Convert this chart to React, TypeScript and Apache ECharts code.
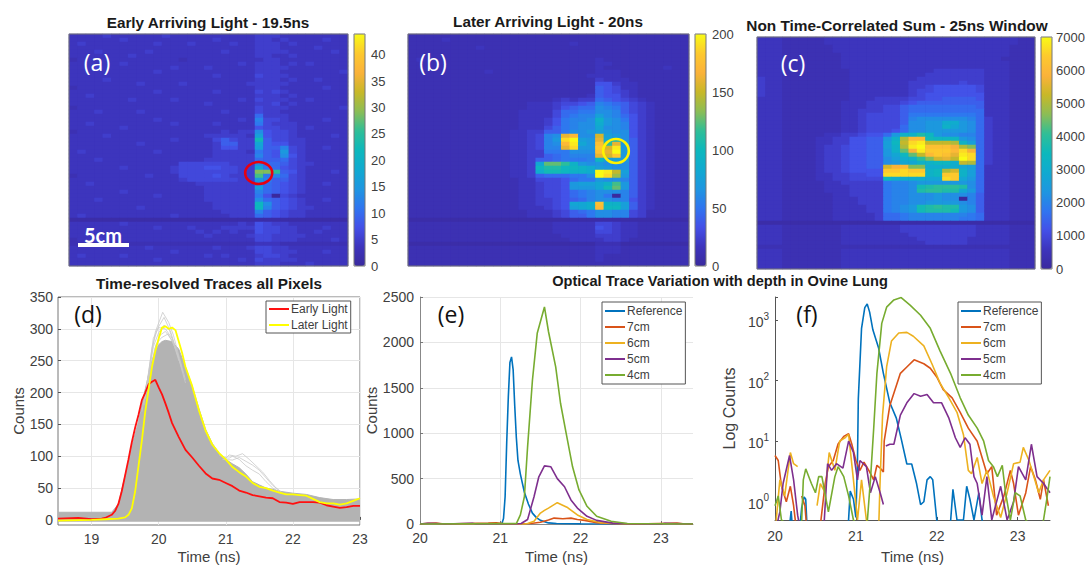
import React, { useEffect, useRef } from "react";
import * as echarts from "echarts";

const panelARows = [
  "333343333334333 3333333 444333 33333","333333433333333 3343333 443433 33433","343333333343334 3333433 444343 33333","333333333333333 3333333 444333 34333",
  "333433333433333 3334333 444433 33343","333333343333333 3333333 443343 33333","233333333333323 3333333 344333 33333","333333433333333 3333343 444343 43333",
  "333433333333433 3433333 444433 33333","333333333343333 3333333 444333 33334","333333333333333 3343333 544433 33333","333343333333333 3333333 444343 34333",
  "333333334333343 3333334 444433 33333","233333333333333 3333333 444333 33433","333333333343333 3343333 545433 33333","334333333333333 3333333 444343 33333",
  "333333343333433 3333343 544433 43333","333333333333333 3433333 445343 33333","233333333333333 3333333 544433 33334","333433334333333 3334333 544333 33333",
  "333333333333333 3333333 844433 33333","333333333343333 3333343 a55433 33433","334333333333433 3343333 954443 33333","333333433333333 3333333 655443 43333",
  "233333333333333 3334344 b65543 33333","333343333333333 3444443 d65543 33343","333333333333433 3357544 i75544 33333","333333334333333 3347744 e76644 33333",
  "333333333333333 3346644 d77a54 33433","343333333343333 3344443 976c54 33333","333333333333333 3344444 a76b64 33333","333433333333333 3444444 877854 33333",
  "333333333333355 5555444 b88754 43333","333333433333455 5665544 e98654 33333","333333333333455 5555544 nnk764 33343","233333333433355 5565444 l9a854 33333",
  "333333333333345 5555544 ca7754 33333","334333333333333 4444444 a87654 33433","333333333333333 3444444 d87654 33333","333333433333333 3444444 a87654 33333",
  "333333333343333 3444444 960543 33333","333433333333333 3444444 b87654 33433","333333333333333 3344444 hb7654 33333","333333334333333 3344444 ha7654 43333",
  "333333333333333 3334444 a76544 33333","343333333333433 3333444 876544 33333","111111111111111 1111111 111111 11111","333333433333333 3333343 654433 33333",
  "333333333343334 3334444 655443 33433","334333333333333 4343433 655443 34333","333333333333333 3433334 554444 33333","233433333333333 3333333 554443 33343",
  "222222222222222 2222222 333222 22222","333333333433333 3343334 554433 33333","333333333333433 3333333 554443 33433","343333433333333 3434333 455433 33333",
  "333333333343333 3333343 544443 33333","333333333333333 3333333 444333 43333",
];
const panelBRows = [
  "222222222222222 2222222 222222 22222","222232222222222 2222222 222222 22222","222222222222222 2222322 222222 22222","222222223222222 2222222 222222 22222",
  "222222222222222 2222222 222222 22222","222222222222222 2222222 222222 22222","232222222222222 2222222 322222 22222","222222222222222 2222222 332222 22222",
  "222222222222222 2222222 322222 22322","222222222322222 2222222 333222 22222","222222222222222 2222223 333222 22222","222222222222222 2222222 433322 22222",
  "222222222222222 2222222 664332 22222","222222222222222 2222222 765332 22222","222222222222222 2222222 765432 22222","222222222222222 2222223 766432 22222",
  "222222222222222 2234344 876543 22222","222222222222223 3345567 a98754 32222","222222222222223 3346788 ba9754 32222","222222222222233 3358899 bba754 32222",
  "222222222222233 33589aa dba864 32222","222222222222233 3469aab gcb964 32222","222222222222233 3469abb fcba64 32222","222222222222233 3579abb ebba64 32222",
  "222222222222334 4779bbc dcbb64 32222","222222222222334 5absubb rdcb64 32222","222222222222334 5acxzdc sehb74 32222","222222222222334 5abuyec vksc74 32222",
  "222222222222334 5aasxcc wryc74 32222","222222222222334 4999bbb vszc74 32222","222222222222334 4789aaa srwc74 32222","222222222222334 778999a hddc74 32222",
  "222222222222334 emmkgcb cbbb74 32222","222222222222334 hjjhhgf dcbb74 32222","222222222222334 fiihggf zyqd74 32222","222222222222334 788899b zxoc74 32222",
  "222222222222233 5556899 cbba74 32222","222222222222233 4556cdd eglc74 32222","222222222222233 4556ccc eimc74 32222","222222222222233 455689a bbba74 32222",
  "222222222222233 455689a b90a74 32222","222222222222233 445678a bbaa64 32222","222222222222233 4456eef vggd74 32222","222222222222233 3456def uhhd74 32222",
  "222222222222223 3345789 bbaa54 22222","222222222222223 3345779 bbaa54 22222","111111111111111 1111111 111111 11111","222222222222222 2233333 554332 22222",
  "222222222222222 2233333 654332 22222","222222222222222 2233333 554332 22222","222222222222222 2223333 444332 22222","222222222222222 2222333 344322 22222",
  "111111111111111 1111111 222111 11111","222222222222222 2222222 333222 22222","222222222222222 2222222 333222 22222","222222222222222 2222222 322222 22222",
  "222222222222222 2222222 322222 22222","222222222222222 2222222 222222 22222",
];
const panelCRows = [
  "333222223333333 3333333 333333 33322","333222223333333 3333333 333333 33322","333222222333333 3333333 333333 33222","333222222333333 3333333 333333 33222",
  "333222222233333 3333333 333333 33222","333222222233333 3333333 333333 32222","333222222233333 3333333 333333 33222","333222222233333 3333333 333333 33222",
  "333222222223333 3333334 444443 33222","333222222223333 3333344 444443 33222","433222222223333 3333444 444443 33222","433222222223333 3334444 445443 33222",
  "433222222223333 3334456 666653 33222","433222222223333 3334556 666653 33222","433222222223333 3334566 666663 33222","333222222223334 4445566 777763 33222",
  "333222222233344 4456777 777773 33222","333222222233344 5578888 888873 33222","333222222233444 5578888 888883 33222","333222222233455 5579999 999983 33222",
  "333222222233455 557abbb bbba84 33222","333222222233455 557bbcc ffcb84 33222","333222222233455 558bbcc gecb84 33222","333222222233455 568bbcc cccb84 33222",
  "333222223344566 8cggjhc bbaa84 33222","333222233446677 cgpuuih hhcb84 33222","333222233446677 dhqxyqq qpgd84 33222","333222234456677 dgpyzvv vtpn84 33222",
  "333222234456677 cgmtyww wuxt84 33222","333222234456677 cehmquw vsyx84 33222","333222234456677 bdfgknr sqzx84 33222","333222234456677 bceeggh hfqp84 33222",
  "333222234456677 rtunnff ffed83 33222","333222234456666 wwxwwgh prgd83 33222","333222233445566 xxxxxgh wwgd83 33222","333222233445555 hffffee xwec83 33222",
  "333222223344444 9aabccc cccb83 33222","333222223334444 9aabijk kkjb83 33222","333222223334444 9aabjkk jjec83 33222","333222222334444 9aabbbc bbba73 33222",
  "333222222333444 9aabbbc bb0a73 33222","333222222333444 9aabbcc ccba73 33222","333222222333344 9abcijk jjcb73 33222","333222222333344 9abcijj jicb73 33222",
  "333222222333334 889aaaa aaa983 33222","333222222333334 889aaaa aa9983 33222","111111111111111 1111111 111111 11111","333222222233333 3344444 444433 33222",
  "333222222233333 3344444 444433 33222","333222222233333 3334444 444433 33222","333222222233333 3333444 444333 33222","333222222233333 3333344 444333 33222",
  "222222222222222 2222222 222222 22222","333222222233333 3333333 333333 33222","333222222233333 3333333 333333 33222","333222222233333 3333333 333333 33222",
  "333222222233333 3333333 333333 33222","333222222233333 3333333 333333 33222",
];
const heatMaxA = 43.9;
const heatMaxB = 200;
const heatMaxC = 7000;
const parula = ["#3A2A9E","#3D34BC","#4450E8","#3075F0","#1E96E0","#10AAD0","#0DB8BC","#30BE96","#8CBD55","#C8B828","#FBB23A","#FDC92E","#F9FB15"];

const earlyLight = [[18.5,2],[18.8,3],[19,1],[19.15,2],[19.2,3],[19.3,8],[19.35,14],[19.4,25],[19.45,45],[19.5,70],[19.55,95],[19.6,122],[19.65,145],[19.7,165],[19.75,188],[19.8,200],[19.85,213],[19.9,217],[19.95,220],[20,208],[20.05,197],[20.1,183],[20.15,168],[20.2,152],[20.3,130],[20.4,110],[20.5,98],[20.6,85],[20.7,73],[20.8,65],[20.9,63],[21,58],[21.1,53],[21.2,46],[21.3,43],[21.4,39],[21.5,37],[21.6,35],[21.7,34],[21.8,28],[21.9,27],[22,25],[22.1,28],[22.2,28],[22.3,28],[22.4,27],[22.5,23],[22.6,21],[22.7,19],[22.8,20],[22.9,22],[23,22]];
const laterLight = [[18.5,-1],[19,0],[19.2,1],[19.4,2],[19.5,4],[19.55,8],[19.6,18],[19.65,45],[19.7,85],[19.75,125],[19.8,170],[19.85,205],[19.9,240],[19.95,265],[20,285],[20.05,302],[20.1,304],[20.15,300],[20.2,302],[20.25,298],[20.3,280],[20.35,262],[20.4,240],[20.5,210],[20.6,172],[20.7,140],[20.8,118],[20.9,105],[21,95],[21.1,83],[21.2,75],[21.3,68],[21.4,58],[21.5,52],[21.6,50],[21.7,46],[21.8,43],[21.9,40],[22,40],[22.1,39],[22.2,38],[22.3,33],[22.4,28],[22.5,26],[22.6,26],[22.7,24],[22.8,26],[22.9,30],[23,34]];
const pixelEnvelope = [[18.5,12],[19.3,12],[19.4,25],[19.5,70],[19.6,115],[19.7,155],[19.8,205],[19.85,228],[19.9,250],[19.95,265],[20,275],[20.05,280],[20.1,282],[20.2,280],[20.3,268],[20.4,240],[20.5,210],[20.6,175],[20.7,142],[20.8,120],[20.9,105],[21,95],[21.1,88],[21.2,82],[21.3,72],[21.4,60],[21.5,55],[21.6,50],[21.7,48],[21.8,45],[22,42],[22.2,40],[22.4,35],[22.6,32],[22.8,32],[23,33]];
const pixelTraces = [
  [[19.75,170],[19.85,230],[19.95,295],[20.06,326],[20.15,310],[20.22,290],[20.3,258],[20.4,220]],
  [[19.78,180],[19.9,270],[19.98,300],[20.08,318],[20.18,295],[20.28,260],[20.4,215]],
  [[19.8,190],[19.92,285],[20,302],[20.1,300],[20.2,285],[20.3,250]],
  [[19.82,205],[19.92,272],[20,294],[20.08,306],[20.16,298],[20.26,268],[20.36,232]],
  [[19.84,215],[19.94,268],[20.02,290],[20.1,296],[20.2,282],[20.3,254]],
  [[19.86,225],[19.96,275],[20.04,286],[20.14,292],[20.24,272],[20.34,240]],
  [[20.9,102],[21,97],[21.05,102],[21.15,100],[21.25,104],[21.35,95],[21.45,85],[21.55,75],[21.65,62],[21.75,50],[21.85,42]],
  [[20.95,98],[21.05,97],[21.1,100],[21.2,95],[21.3,85],[21.4,78],[21.5,72],[21.6,60],[21.7,50],[21.8,44]],
  [[20.95,95],[21.1,94],[21.2,98],[21.3,92],[21.4,86],[21.5,78],[21.6,66],[21.7,54],[21.8,46]],
];

const eReference = [[20,0],[21.02,5],[21.04,60],[21.06,300],[21.08,900],[21.1,1400],[21.12,1780],[21.14,1840],[21.16,1700],[21.18,1300],[21.2,950],[21.22,700],[21.25,550],[21.3,350],[21.35,220],[21.4,120],[21.45,70],[21.5,40],[21.6,12],[21.7,5],[22,1],[23.4,0]];
const e7cm = [[20,0],[20.1,8],[20.2,10],[20.3,0],[20.85,10],[20.95,14],[21.05,2],[21.38,5],[21.5,20],[21.6,45],[21.67,65],[21.78,58],[21.88,65],[21.96,50],[22.05,40],[22.2,15],[22.4,3],[22.7,0],[23.1,8],[23.2,10],[23.3,0],[23.4,0]];
const e6cm = [[20,0],[21.3,0],[21.34,5],[21.42,30],[21.5,120],[21.55,150],[21.6,175],[21.71,235],[21.83,185],[21.96,100],[22.08,50],[22.25,15],[22.55,3],[23.4,0]];
const e5cm = [[20,0],[20.1,8],[20.2,6],[20.3,0],[20.65,8],[20.7,0],[21.2,0],[21.26,5],[21.34,50],[21.42,300],[21.48,520],[21.55,640],[21.63,630],[21.71,500],[21.8,410],[21.88,265],[21.96,175],[22.08,85],[22.2,40],[22.4,10],[22.6,2],[23,0],[23.05,8],[23.15,6],[23.4,0]];
const e4cm = [[20,0],[21.2,5],[21.25,100],[21.3,300],[21.34,850],[21.4,1580],[21.46,2100],[21.55,2390],[21.6,2120],[21.69,1730],[21.75,1330],[21.82,1000],[21.9,630],[21.98,375],[22.08,195],[22.2,85],[22.38,30],[22.58,5],[23.4,0]];

const fReference = [[20,null],[20.17,0.3],[20.2,0.7],[20.22,0.3],[20.3,0.3],[20.33,0.8],[20.36,1.2],[20.38,1.1],[20.4,0.3],[20.9,0.3],[20.93,1.5],[20.97,1.1],[21,0.55],[21.02,5],[21.03,50],[21.07,730],[21.11,1600],[21.14,1840],[21.17,1350],[21.21,690],[21.28,350],[21.34,132],[21.42,43],[21.5,24],[21.56,11],[21.63,4.2],[21.69,4.2],[21.75,2],[21.8,0.9],[21.84,1],[21.88,2.3],[21.92,2.6],[21.95,2.3],[22,0.5],[22.02,0.3],[22.16,0.3],[22.2,1.6],[22.25,0.5],[22.33,0.5],[22.37,1.8],[22.41,1.1],[22.46,0.5],[22.52,1.4],[22.56,0.5],[22.6,0.3],[23.4,null]];
const f7cm = [[20,5.8],[20.04,4.8],[20.08,1.8],[20.14,1],[20.19,1.8],[20.23,0.86],[20.27,0.3],[20.3,null],[20.33,1.25],[20.37,0.86],[20.39,0.4],[20.5,null],[20.56,0.4],[20.62,2],[20.66,3.8],[20.72,4.8],[20.78,9],[20.85,12],[20.91,13.3],[20.95,8.9],[21,4.8],[21.05,3.3],[21.1,4.5],[21.16,3.3],[21.22,2.3],[21.26,4],[21.3,3.6],[21.34,3.1],[21.35,10],[21.42,39],[21.55,132],[21.63,168],[21.72,220],[21.84,190],[21.92,160],[22,115],[22.08,71],[22.19,52],[22.29,30],[22.39,16.4],[22.5,10],[22.56,5.4],[22.62,2.9],[22.68,3.8],[22.74,0.6],[22.83,1.25],[22.91,3.3],[22.95,2],[23.01,0.6],[23.1,1.4],[23.16,3.8],[23.22,2.3],[23.28,1.1],[23.32,2.3],[23.38,0.86]];
const f6cm = [[20,0.3],[20.06,2.3],[20.12,1.25],[20.19,6.5],[20.23,4.25],[20.28,3.8],[20.29,null],[20.52,0.86],[20.56,2],[20.62,1.41],[20.67,6.5],[20.74,3.3],[20.8,10],[20.87,11.5],[20.91,13],[20.97,2.3],[21.02,0.5],[21.07,2.3],[21.13,0.5],[21.28,0.3],[21.3,2.3],[21.33,27],[21.38,168],[21.44,450],[21.53,610],[21.63,625],[21.71,540],[21.84,375],[21.94,190],[22.04,91],[22.15,52],[22.25,30],[22.33,12.8],[22.39,3.3],[22.43,2.9],[22.5,5.4],[22.56,2],[22.62,3.3],[22.7,1.25],[22.79,0.55],[22.87,1.41],[22.95,4.25],[23.03,4.5],[23.07,7.9],[23.14,4.8],[23.2,2.6],[23.26,1.41],[23.32,2.3],[23.4,3.3]];
const f5cm = [[20,0.3],[20.06,0.68],[20.1,2],[20.18,5.8],[20.23,2.3],[20.28,0.6],[20.32,0.3],[20.55,null],[20.6,0.3],[20.65,4.25],[20.7,3.3],[20.76,4.25],[20.84,3.6],[20.91,10],[20.97,6.5],[21.02,2.3],[21.05,4.8],[21.13,3.8],[21.18,1.41],[21.24,2.6],[21.3,1.41],[21.34,0.9],[21.345,null],[21.37,8.3],[21.42,8.9],[21.47,8.9],[21.55,27],[21.63,43],[21.72,61],[21.8,55],[21.88,59],[21.96,43],[22.06,43],[22.15,24],[22.23,11.4],[22.29,7.9],[22.35,11.4],[22.41,8.9],[22.46,2.6],[22.5,2],[22.56,0.6],[22.62,2.6],[22.68,0.5],[22.79,1.8],[22.87,0.5],[22.95,1],[23.01,3.8],[23.1,2.3],[23.17,8.9],[23.24,2.6],[23.32,2],[23.4,1.41]];
const f4cm = [[20,0.86],[20.04,1.25],[20.08,0.5],[20.3,0.3],[20.33,0.5],[20.35,2.3],[20.38,3.5],[20.45,2],[20.5,1.41],[20.54,2.6],[20.58,2.6],[20.66,0.68],[20.74,2.6],[20.78,3.8],[20.85,2.6],[20.91,1.25],[20.97,0.5],[21.13,0.3],[21.18,2.3],[21.22,16],[21.26,132],[21.32,880],[21.38,1630],[21.47,2150],[21.56,2350],[21.67,1760],[21.8,1200],[21.92,730],[22.04,310],[22.17,132],[22.29,52],[22.39,27],[22.5,16.4],[22.58,10],[22.64,4.8],[22.7,3.8],[22.75,2.6],[22.81,4],[22.85,1.41],[22.91,0.5],[22.97,1.41],[23.03,1.25],[23.1,0.5],[23.28,0.3],[23.32,0.5],[23.36,1.1],[23.4,2.6]];

const xTicksD = [19, 20, 21, 22, 23];
const yTicksD = [0, 50, 100, 150, 200, 250, 300, 350];
const xTicksEF = [20, 21, 22, 23];
const lineColors = { reference: "#0072BD", d7: "#D95319", d6: "#EDB120", d5: "#7E2F8E", d4: "#77AC30" };

const SANS = "Liberation Sans";
const INK = "#404040";
const rowsToCells = (rows: string[], max: number) => {
  const cells: number[][] = [];
  rows.forEach((row, r) => {
    row.replace(/ /g, "").split("").forEach((ch, c) => cells.push([c, r, (parseInt(ch, 36) / 35) * max]));
  });
  return cells;
};
const columns = Array.from({ length: 33 }, (_, i) => i);
const rowsIdx = panelARows.map((_, i) => i);
const plain = (v: number) => String(v);

const heatBoxes = [
  { left: 69, top: 34, width: 279, height: 232, barLeft: 354, max: heatMaxA, interval: 5, rows: panelARows },
  { left: 408, top: 34, width: 281, height: 232, barLeft: 695, max: heatMaxB, interval: 50, rows: panelBRows },
  { left: 757, top: 37, width: 278, height: 232, barLeft: 1041, max: heatMaxC, interval: 1000, rows: panelCRows },
];
const linePanels = [
  { left: 58, top: 297, width: 302, height: 228, box: true },
  { left: 420, top: 297, width: 273, height: 227, box: false },
  { left: 775, top: 297, width: 275, height: 229, box: false },
];

const lineSeries = (name: string, data: any[], color: string, idx: number, width = 1.6) => ({
  type: "line", name, data, xAxisIndex: idx, yAxisIndex: idx, symbol: "none", showSymbol: false, silent: true,
  connectNulls: false, lineStyle: { color, width }, itemStyle: { color }, z: 5,
});

function buildOption() {
  const grid: any[] = [], xAxis: any[] = [], yAxis: any[] = [], series: any[] = [], visualMap: any[] = [];
  heatBoxes.forEach((h, i) => {
    grid.push({ left: h.left, top: h.top, width: h.width, height: h.height, show: true, borderWidth: 0, backgroundColor: "#3A30B0" });
    xAxis.push({ type: "category", gridIndex: i, data: columns, axisLabel: { show: false }, axisLine: { show: false }, axisTick: { show: false }, splitLine: { show: false } });
    yAxis.push({ type: "category", gridIndex: i, inverse: true, data: rowsIdx, axisLabel: { show: false }, axisLine: { show: false }, axisTick: { show: false }, splitLine: { show: false } });
    series.push({ type: "heatmap", xAxisIndex: i, yAxisIndex: i, data: rowsToCells(h.rows, h.max), silent: true, progressive: 0, itemStyle: { borderWidth: 0 } });
    visualMap.push({ type: "continuous", seriesIndex: i, dimension: 2, min: 0, max: h.max, calculable: false, hoverLink: false, realtime: false, padding: 0, left: h.barLeft, top: h.top, itemWidth: 11, itemHeight: h.height, inRange: { color: parula }, text: null, show: true });
  });
  heatBoxes.forEach((h, i) => {
    const gi = 3 + i;
    grid.push({ left: h.barLeft, top: h.top, width: 11, height: h.height });
    xAxis.push({ type: "value", gridIndex: gi, min: 0, max: 1, show: false });
    yAxis.push({ type: "value", gridIndex: gi, position: "right", min: 0, max: h.max, interval: h.interval, axisLine: { show: false }, axisTick: { show: false }, splitLine: { show: false }, axisLabel: { color: INK, fontFamily: SANS, fontSize: 13, margin: 6, showMaxLabel: i !== 0, formatter: plain } });
  });
  linePanels.forEach((p) => {
    grid.push({ left: p.left, top: p.top, width: p.width, height: p.height, show: p.box, borderColor: "#777", borderWidth: 1 });
  });
  const axisName = { color: INK, fontFamily: SANS, fontSize: 15 };
  const tickLabel = { color: INK, fontFamily: SANS, fontSize: 14 };
  const gridLine = { show: true, lineStyle: { color: "#e6e6e6", width: 1 } };
  // (d)
  xAxis.push({ type: "value", gridIndex: 6, min: 18.5, max: 23, name: "Time (ns)", nameLocation: "middle", nameGap: 24, nameTextStyle: axisName, axisLine: { show: false }, axisTick: { show: true, inside: true, length: 3, lineStyle: { color: "#555" }, customValues: xTicksD }, axisLabel: { ...tickLabel, margin: 7, customValues: xTicksD, formatter: plain }, splitLine: gridLine });
  yAxis.push({ type: "value", gridIndex: 6, min: -8, max: 350, name: "Counts", nameLocation: "middle", nameGap: 31, nameTextStyle: axisName, axisLine: { show: false }, axisTick: { show: true, inside: true, length: 3, lineStyle: { color: "#555" }, customValues: yTicksD }, axisLabel: { ...tickLabel, margin: 5, customValues: yTicksD, formatter: plain }, splitLine: gridLine });
  // (e)
  xAxis.push({ type: "value", gridIndex: 7, min: 20, max: 23.4, name: "Time (ns)", nameLocation: "middle", nameGap: 25, nameTextStyle: axisName, axisLine: { show: true, onZero: false, lineStyle: { color: "#888" } }, axisTick: { show: true, inside: true, length: 3, lineStyle: { color: "#777" }, customValues: xTicksEF }, axisLabel: { ...tickLabel, margin: 7, customValues: xTicksEF, formatter: plain }, splitLine: gridLine });
  yAxis.push({ type: "value", gridIndex: 7, min: 0, max: 2500, interval: 500, name: "Counts", nameLocation: "middle", nameGap: 38, nameTextStyle: axisName, axisLine: { show: true, lineStyle: { color: "#888" } }, axisTick: { show: true, inside: true, length: 3, lineStyle: { color: "#777" } }, axisLabel: { ...tickLabel, margin: 6, formatter: plain }, splitLine: gridLine });
  // (f)
  xAxis.push({ type: "value", gridIndex: 8, min: 20, max: 23.4, name: "Time (ns)", nameLocation: "middle", nameGap: 29, nameTextStyle: axisName, axisLine: { show: true, onZero: false, lineStyle: { color: "#555" } }, axisTick: { show: true, inside: true, length: 3, lineStyle: { color: "#555" }, customValues: xTicksEF }, axisLabel: { ...tickLabel, margin: 9, customValues: xTicksEF, formatter: plain }, splitLine: { show: false } });
  yAxis.push({
    type: "log", logBase: 10, gridIndex: 8, min: 0.5, max: 2400, name: "Log Counts", nameLocation: "middle", nameGap: 38, nameTextStyle: { ...axisName, fontSize: 16 },
    axisLine: { show: true, onZero: false, lineStyle: { color: "#555" } }, axisTick: { show: true, inside: true, length: 3, lineStyle: { color: "#555" } }, splitLine: { show: false }, minorTick: { show: false },
    axisLabel: {
      color: INK, margin: 6, showMinLabel: true, showMaxLabel: true,
      formatter: (v: number) => {
        const e = Math.log10(v);
        return Math.abs(e - Math.round(e)) < 1e-6 ? `{b|10}{s|${Math.round(e)}}` : "";
      },
      rich: { b: { fontFamily: SANS, fontSize: 14, color: INK, verticalAlign: "bottom" }, s: { fontFamily: SANS, fontSize: 10, color: INK, verticalAlign: "top", padding: [0, 0, 8, 0] } },
    },
  });
  // line series (d)
  series.push({
    type: "line", name: "All pixels", data: pixelEnvelope, xAxisIndex: 6, yAxisIndex: 6, symbol: "none", silent: true,
    lineStyle: { color: "#b3b3b3", width: 1 }, areaStyle: { color: "#b3b3b3", opacity: 1, origin: -3 }, z: 2,
  });
  pixelTraces.forEach((t, i) => series.push({ ...lineSeries(`Pixel ${i + 1}`, t, "#c9c9c9", 6, 0.8), z: 3 }));
  series.push(lineSeries("Early Light", earlyLight, "#FF1010", 6, 1.8));
  series.push(lineSeries("Later Light", laterLight, "#FFFF00", 6, 1.8));
  // (e)
  series.push(lineSeries("Reference", eReference, lineColors.reference, 7));
  series.push(lineSeries("7cm", e7cm, lineColors.d7, 7));
  series.push(lineSeries("6cm", e6cm, lineColors.d6, 7));
  series.push(lineSeries("5cm", e5cm, lineColors.d5, 7));
  series.push(lineSeries("4cm", e4cm, lineColors.d4, 7));
  // (f)
  series.push(lineSeries("Reference", fReference, lineColors.reference, 8));
  series.push(lineSeries("7cm", f7cm, lineColors.d7, 8));
  series.push(lineSeries("6cm", f6cm, lineColors.d6, 8));
  series.push(lineSeries("5cm", f5cm, lineColors.d5, 8));
  series.push(lineSeries("4cm", f4cm, lineColors.d4, 8));

  const legendBase = {
    orient: "vertical", selectedMode: false, backgroundColor: "#fff", borderColor: "#555", borderWidth: 1, icon: "rect", itemWidth: 20, itemHeight: 2, itemGap: 4,
    textStyle: { color: INK, fontFamily: SANS, fontSize: 12, padding: [0, 0, 0, -3] }, align: "left",
  };
  const legend = [
    { ...legendBase, left: 266, top: 301, padding: [2, 3, 2, 3], data: ["Early Light", "Later Light"] },
    { ...legendBase, left: 602, top: 302, padding: [3, 3, 3, 3], data: ["Reference", "7cm", "6cm", "5cm", "4cm"] },
    { ...legendBase, left: 958, top: 302, padding: [3, 3, 3, 3], data: ["Reference", "7cm", "6cm", "5cm", "4cm"] },
  ];

  const title = [
    { text: "Early Arriving Light - 19.5ns", x: 208, y: 22, size: 15.3 },
    { text: "Later Arriving Light - 20ns", x: 548, y: 21, size: 15.3 },
    { text: "Non Time-Correlated Sum - 25ns Window", x: 897, y: 25, size: 15.4 },
    { text: "Time-resolved Traces all Pixels", x: 209, y: 283, size: 15.3 },
    { text: "Optical Trace Variation with depth in Ovine Lung", x: 720, y: 281, size: 14.6 },
  ].map((t) => ({
    type: "text", x: t.x, y: t.y, z: 50, style: { text: t.text, fill: "#1a1a1a", textAlign: "center", textVerticalAlign: "middle", font: `bold ${t.size}px "${SANS}"` },
  }));
  const tag = (text: string, x: number, y: number, fill: string) => ({
    type: "text", x, y, z: 50, style: { text, fill, font: `23px "Open Sans"`, textAlign: "center", textVerticalAlign: "middle" },
  });
  const frames = [...heatBoxes.map((h) => ({ x: h.left, y: h.top, width: h.width, height: h.height })), ...heatBoxes.map((h) => ({ x: h.barLeft, y: h.top, width: 11, height: h.height }))].map((s) => ({
    type: "rect", z: 40, shape: s, style: { fill: "none", stroke: "#777", lineWidth: 1 }, silent: true,
  }));
  const graphic = [
    ...title, ...frames,
    tag("(a)", 97, 62, "#fff"), tag("(b)", 433, 62, "#fff"), tag("(c)", 793, 63, "#fff"),
    tag("(d)", 88, 314, "#111"), tag("(e)", 451, 314, "#111"), tag("(f)", 807, 314, "#111"),
    { type: "text", x: 103, y: 235, z: 50, style: { text: "5cm", fill: "#fff", font: `bold 20px "Lato"`, textAlign: "center", textVerticalAlign: "middle" } },
    { type: "rect", z: 50, shape: { x: 78, y: 243, width: 51, height: 4 }, style: { fill: "#fff" } },
    { type: "ellipse", z: 50, shape: { cx: 258.7, cy: 173, rx: 13.5, ry: 11 }, style: { fill: "none", stroke: "#E8000F", lineWidth: 2.6 } },
    { type: "ellipse", z: 50, shape: { cx: 616, cy: 151, rx: 12.8, ry: 12 }, style: { fill: "none", stroke: "#FFF200", lineWidth: 2.6 } },
  ];

  return { animation: false, backgroundColor: "#fff", grid, xAxis, yAxis, series, visualMap, legend, graphic };
}

export default function App() {
  const ref = useRef<HTMLDivElement>(null);
  useEffect(() => {
    document.body.style.margin = "0";
    const chart = echarts.init(ref.current!, undefined, { renderer: "svg" });
    chart.setOption(buildOption() as any);
    return () => chart.dispose();
  }, []);
  return <div ref={ref} style={{ width: 1088, height: 565, background: "#fff" }} />;
}
